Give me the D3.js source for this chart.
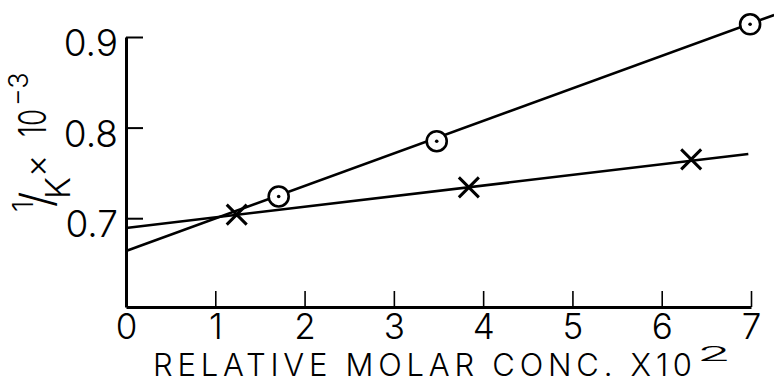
<!DOCTYPE html>
<html>
<head>
<meta charset="utf-8">
<script src="https://cdn.jsdelivr.net/npm/d3@7"></script>
<style>
  body { margin: 0; background: #fff; }
  text { font-family: Inter, "DejaVu Sans", sans-serif; font-weight: 350; fill: #000; }
</style>
</head>
<body>
<script>
// data
var circle_x = [1.71, 3.48, 6.99];
var circle_y = [0.724, 0.785, 0.914];
var cross_x  = [1.24, 3.84, 6.33];
var cross_y  = [0.704, 0.734, 0.765];
// fitted straight lines, [x, y] at both ends
var line_circles = [[0, 0.6638], [7.26, 0.9243]];
var line_crosses = [[0, 0.6892], [6.97, 0.7709]];
var x_ticks = [0, 1, 2, 3, 4, 5, 6, 7];
var y_ticks = [0.7, 0.8, 0.9];
var y_bottom = 0.602;

var svg = d3.select("body").append("svg")
            .attr("width", 774)
            .attr("height", 384);

var x = d3.scaleLinear().domain([0, 7]).range([126, 751]);
var y = d3.scaleLinear().domain([y_bottom, 0.9]).range([307, 37]);

// y axis, ticks pointing inwards
var gy = svg.append("g")
            .attr("transform", "translate(" + x(0) + ",0)")
            .call(d3.axisLeft(y).tickValues(y_ticks).tickSize(-17).tickSizeOuter(0)
                    .tickPadding(8).tickFormat(d3.format(".1f")));
gy.select(".domain").attr("stroke-width", 3);
gy.selectAll(".tick line").attr("stroke-width", 2);
gy.selectAll(".tick text").attr("font-size", 37).attr("dy", "0.5em");

// x axis
var gx = svg.append("g")
            .attr("transform", "translate(0," + y(y_bottom) + ")")
            .call(d3.axisBottom(x).tickValues(x_ticks).tickSize(-16).tickSizeOuter(0)
                    .tickPadding(7).tickFormat(d3.format("d")));
gx.select(".domain").attr("stroke-width", 3);
gx.selectAll(".tick line").attr("stroke-width", 1.6);
gx.selectAll(".tick text").attr("font-size", 35);

// lines
var line = d3.line().x(function(d) { return x(d[0]); }).y(function(d) { return y(d[1]); });
[line_circles, line_crosses].forEach(function(l) {
    svg.append("path").attr("d", line(l))
       .attr("fill", "none").attr("stroke", "#000").attr("stroke-width", 2.6);
});

// circles with a dot in the middle
var circle_data = circle_x.map(function(d, i) { return [d, circle_y[i]]; });
var pts = svg.selectAll("g.circ").data(circle_data).enter().append("g")
             .attr("transform", function(d) { return "translate(" + x(d[0]) + "," + y(d[1]) + ")"; });
pts.append("circle").attr("r", 10).attr("fill", "#fff").attr("stroke", "#000").attr("stroke-width", 2.6);
pts.append("circle").attr("r", 1.8).attr("fill", "#000");

// crosses
var cross_data = cross_x.map(function(d, i) { return [d, cross_y[i]]; });
var crs = svg.selectAll("g.cross").data(cross_data).enter().append("g")
             .attr("transform", function(d) { return "translate(" + x(d[0]) + "," + y(d[1]) + ")"; });
crs.append("path").attr("d", "M-10,-10L10,10M-10,10L10,-10")
   .attr("stroke", "#000").attr("stroke-width", 3).attr("fill", "none");

// x title
svg.append("text").attr("x", 153).attr("y", 376)
   .attr("font-size", 31).attr("textLength", 539).attr("lengthAdjust", "spacing")
   .text("RELATIVE MOLAR CONC. X10");
svg.append("text").attr("x", 697).attr("y", 361)
   .attr("font-size", 20).attr("textLength", 34).attr("lengthAdjust", "spacingAndGlyphs")
   .text("2");

// y title, rotated; x runs along the text, y is across it
var yt = svg.append("text").attr("transform", "translate(46,212) rotate(-90)");
yt.append("tspan").attr("x", 0).attr("y", -13).attr("font-size", 29).text("1");
yt.append("tspan").attr("x", 5).attr("y", 6).attr("font-size", 44).text("/");
yt.append("tspan").attr("x", 13).attr("y", 24).attr("font-size", 34).text("K");
yt.append("tspan").attr("x", 35).attr("y", 2).attr("font-size", 34).text("×");
yt.append("tspan").attr("x", 75).attr("y", 0).attr("font-size", 38)
  .attr("textLength", 28).attr("lengthAdjust", "spacingAndGlyphs").text("10");
yt.append("tspan").attr("x", 106).attr("y", -18).attr("font-size", 27).text("−3");
</script>
</body>
</html>
